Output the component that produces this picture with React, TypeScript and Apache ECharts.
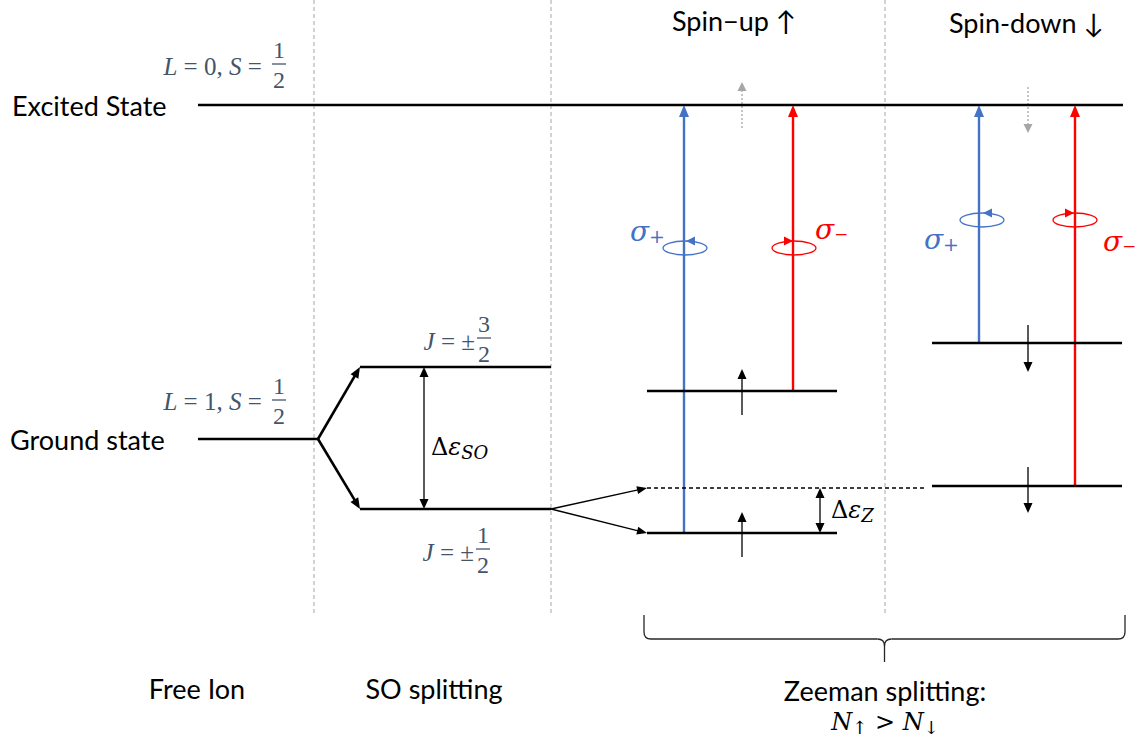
import React, { useEffect, useRef } from 'react';
import * as echarts from 'echarts';

// Diagram space spans the page; y grows downward (higher energy is nearer the top).
const PAGE_W = 1138;
const PAGE_H = 742;

// Column dividers (x) and their vertical extent
const dividerX = [314, 551, 885];
const dividerSpan = [0, 614];

// Energy levels: [xStart, xEnd, y]
const excitedLevel = [[198, 1123, 105]];
const freeIonGround = [[198, 318, 439]];
const soLevels = [[360, 551, 367], [360, 551, 509]];
const spinUpLevels = [[647, 837, 391], [647, 837, 533]];
const spinDownLevels = [[932, 1122, 343], [932, 1122, 486]];
const unsplitLevel = [[647, 927, 488]];

// Splitting arrows: [x1, y1, x2, y2]
const soSplit = [[318, 439, 360, 367], [318, 439, 360, 509]];
const zeemanSplit = [[551, 509, 647, 488], [551, 509, 647, 533]];

// Energy gap markers: [x, yTop, yBottom]
const gapMarkers = [[424, 367, 509], [820, 488, 533]];

// Optical transitions: [x, yFrom, yTo]
const sigmaPlusLines = [[684, 533, 105], [979, 343, 105]];
const sigmaMinusLines = [[793, 391, 105], [1075, 486, 105]];

// Spin orientation arrows: [x, yTail, yTip]
const spinArrows = [[742, 415, 369], [742, 557, 512], [1028, 325, 372], [1028, 467, 513]];
const excitedSpinArrows = [[742, 128, 82], [1028, 87, 133]];

// Polarization rings: [cx, cy]
const sigmaPlusRings = [[685, 248], [982, 220]];
const sigmaMinusRings = [[794, 248], [1075, 220]];

// Brace under the Zeeman columns: [xLeft, xRight, yTop, yBar, yTip]
const zeemanBrace = [[644, 1125, 615, 639, 662]];

// Captions
const captionTexts = ['Excited State', 'Ground state', 'Spin\u2212up \u2191', 'Spin-down \u2193', 'Free Ion', 'SO splitting', 'Zeeman splitting:'];
const captionAnchors = [[12, 105], [10, 439], [672, 20], [949, 22], [197, 688], [434, 688], [885, 690]];
const captionAlign = ['left', 'left', 'left', 'left', 'center', 'center', 'center'];

// Term symbols with fractions
const termTexts = ['{i|L}{r| = 0, }{i|S}{r| = }', '{i|L}{r| = 1, }{i|S}{r| = }', '{i|J}{r| = \u00b1}', '{i|J}{r| = \u00b1}'];
const termAnchors = [[268, 66], [268, 401], [475, 341], [474, 552]];
const termAlign = ['right', 'right', 'right', 'right'];
const fractionNumerators = ['1', '1', '3', '1'];
const fractionDenominators = ['2', '2', '2', '2'];
const fractionAnchors = [[279, 64], [279, 400], [484, 338], [483, 549]];

// Gap and population symbols
const symbolTexts = ['{r|\u0394}{i|\u03b5}{sub|SO}', '{r|\u0394}{i|\u03b5}{sub|Z}', '{i|N}{sub|\u2191}{r| > }{i|N}{sub|\u2193}'];
const symbolAnchors = [[431, 447], [831, 510], [885, 722]];
const symbolAlign = ['left', 'left', 'center'];

// Polarization labels
const sigmaTexts = ['{i|\u03c3}{sub|+}', '{i|\u03c3}{sub|\u2212}', '{i|\u03c3}{sub|+}', '{i|\u03c3}{sub|\u2212}'];
const sigmaAnchors = [[630, 231], [815, 229], [924, 239], [1103, 241]];

const BLUE = '#4472C4';
const RED = '#FF0000';
const BLACK = '#000000';
const GREY = '#A6A6A6';
const SLATE = '#44546A';

const SANS = 'Lato, "Open Sans", sans-serif';
const SERIF = '"DejaVu Serif", "Liberation Serif", serif';
const TERM_SERIF = '"Liberation Serif", "DejaVu Serif", serif';

type Look = { color: string; width: number; dash?: number[]; head?: 'none' | 'end' | 'both'; headLen?: number; headHalf?: number };

function arrowHead(tip: number[], ux: number, uy: number, len: number, half: number, color: string) {
  const bx = tip[0] - ux * len;
  const by = tip[1] - uy * len;
  return {
    type: 'polygon',
    shape: { points: [[tip[0], tip[1]], [bx - uy * half, by + ux * half], [bx + uy * half, by - ux * half]] },
    style: { fill: color },
  };
}

function segmentSeries(id: string, rows: number[][], look: Look) {
  return {
    id,
    type: 'custom',
    coordinateSystem: 'cartesian2d',
    silent: true,
    data: rows,
    renderItem: (_p: any, api: any) => {
      const a = api.coord([api.value(0), api.value(1)]);
      const b = api.coord([api.value(2), api.value(3)]);
      const dx = b[0] - a[0];
      const dy = b[1] - a[1];
      const len = Math.hypot(dx, dy) || 1;
      const ux = dx / len;
      const uy = dy / len;
      const L = look.headLen || 0;
      const H = look.headHalf || 0;
      const children: any[] = [];
      let s = a;
      let e = b;
      if (look.head === 'end' || look.head === 'both') {
        e = [b[0] - ux * L * 0.8, b[1] - uy * L * 0.8];
        children.push(arrowHead(b, ux, uy, L, H, look.color));
      }
      if (look.head === 'both') {
        s = [a[0] + ux * L * 0.8, a[1] + uy * L * 0.8];
        children.push(arrowHead(a, -ux, -uy, L, H, look.color));
      }
      const style: any = { stroke: look.color, lineWidth: look.width, lineCap: 'butt' };
      if (look.dash) style.lineDash = look.dash;
      children.unshift({ type: 'line', shape: { x1: s[0], y1: s[1], x2: e[0], y2: e[1] }, style });
      return { type: 'group', children };
    },
  };
}

const levelRows = (rows: number[][]) => rows.map(([x1, x2, y]) => [x1, y, x2, y]);
const verticalRows = (rows: number[][]) => rows.map(([x, y1, y2]) => [x, y1, x, y2]);

function ringSeries(id: string, rows: number[][], color: string, dir: number) {
  return {
    id,
    type: 'custom',
    coordinateSystem: 'cartesian2d',
    silent: true,
    data: rows,
    renderItem: (_p: any, api: any) => {
      const c = api.coord([api.value(0), api.value(1)]);
      const rx = 22;
      const ry = 7;
      const tipX = c[0] - dir * 1;
      const baseX = tipX - dir * 9;
      const y = c[1] - ry;
      return {
        type: 'group',
        children: [
          { type: 'ellipse', shape: { cx: c[0], cy: c[1], rx, ry }, style: { fill: 'none', stroke: color, lineWidth: 1.3 } },
          { type: 'polygon', shape: { points: [[tipX, y], [baseX, y - 4.5], [baseX, y + 4.5]] }, style: { fill: color } },
        ],
      };
    },
  };
}

function braceSeries(id: string, rows: number[][]) {
  return {
    id,
    type: 'custom',
    coordinateSystem: 'cartesian2d',
    silent: true,
    data: rows,
    renderItem: (_p: any, api: any) => {
      const [l, top] = api.coord([api.value(0), api.value(2)]);
      const [r, bar] = api.coord([api.value(1), api.value(3)]);
      const tip = api.coord([api.value(0), api.value(4)])[1];
      const cx = (l + r) / 2;
      const k = 7;
      const st = { stroke: '#262626', lineWidth: 1.3, fill: 'none' };
      return {
        type: 'group',
        children: [
          { type: 'line', shape: { x1: l, y1: top, x2: l, y2: bar - k }, style: st },
          { type: 'bezierCurve', shape: { x1: l, y1: bar - k, cpx1: l, cpy1: bar, x2: l + k, y2: bar }, style: st },
          { type: 'line', shape: { x1: l + k, y1: bar, x2: cx - k, y2: bar }, style: st },
          { type: 'bezierCurve', shape: { x1: cx - k, y1: bar, cpx1: cx, cpy1: bar, x2: cx, y2: bar + k }, style: st },
          { type: 'line', shape: { x1: cx, y1: bar + k, x2: cx, y2: tip }, style: st },
          { type: 'bezierCurve', shape: { x1: cx + k, y1: bar, cpx1: cx, cpy1: bar, x2: cx, y2: bar + k }, style: st },
          { type: 'line', shape: { x1: cx + k, y1: bar, x2: r - k, y2: bar }, style: st },
          { type: 'bezierCurve', shape: { x1: r - k, y1: bar, cpx1: r, cpy1: bar, x2: r, y2: bar - k }, style: st },
          { type: 'line', shape: { x1: r, y1: bar - k, x2: r, y2: top }, style: st },
        ],
      };
    },
  };
}

function mathRich(family: string, color: string, size: number, subSize: number, drop: number) {
  return {
    i: { fontFamily: family, fontStyle: 'italic', fontSize: size, fill: color },
    r: { fontFamily: family, fontSize: size, fill: color },
    sub: { fontFamily: family, fontStyle: 'italic', fontSize: subSize, fill: color, padding: [drop * 2, 0, 0, 0] },
  };
}

function textSeries(id: string, anchors: number[][], build: (i: number) => any) {
  return {
    id,
    type: 'custom',
    coordinateSystem: 'cartesian2d',
    silent: true,
    data: anchors,
    renderItem: (p: any, api: any) => {
      const c = api.coord([api.value(0), api.value(1)]);
      return { type: 'text', x: c[0], y: c[1], style: build(p.dataIndex) };
    },
  };
}

function fractionSeries(id: string) {
  return {
    id,
    type: 'custom',
    coordinateSystem: 'cartesian2d',
    silent: true,
    data: fractionAnchors,
    renderItem: (p: any, api: any) => {
      const c = api.coord([api.value(0), api.value(1)]);
      const font = { fontFamily: TERM_SERIF, fontSize: 24, fill: SLATE, align: 'center', verticalAlign: 'middle' };
      return {
        type: 'group',
        children: [
          { type: 'text', x: c[0], y: c[1] - 14, style: { ...font, text: fractionNumerators[p.dataIndex] } },
          { type: 'line', shape: { x1: c[0] - 7, y1: c[1], x2: c[0] + 7, y2: c[1] }, style: { stroke: SLATE, lineWidth: 1.3 } },
          { type: 'text', x: c[0], y: c[1] + 16, style: { ...font, text: fractionDenominators[p.dataIndex] } },
        ],
      };
    },
  };
}

function buildOption() {
  return {
    animation: false,
    backgroundColor: '#ffffff',
    grid: { left: 0, right: 0, top: 0, bottom: 0 },
    xAxis: { type: 'value', min: 0, max: PAGE_W, show: false },
    yAxis: { type: 'value', min: 0, max: PAGE_H, inverse: true, show: false },
    series: [
      segmentSeries('dividers', dividerX.map((x) => [x, dividerSpan[0], x, dividerSpan[1]]), { color: GREY, width: 1, dash: [4, 3] }),
      ringSeries('ringsPlus', sigmaPlusRings, BLUE, -1),
      ringSeries('ringsMinus', sigmaMinusRings, RED, 1),
      segmentSeries('sigmaPlus', verticalRows(sigmaPlusLines), { color: BLUE, width: 2.4, head: 'end', headLen: 12, headHalf: 5 }),
      segmentSeries('sigmaMinus', verticalRows(sigmaMinusLines), { color: RED, width: 2.4, head: 'end', headLen: 12, headHalf: 5 }),
      segmentSeries('excitedSpin', verticalRows(excitedSpinArrows), { color: GREY, width: 1.3, dash: [2, 2], head: 'end', headLen: 9, headHalf: 4.5 }),
      segmentSeries('unsplit', levelRows(unsplitLevel), { color: BLACK, width: 1.3, dash: [4, 3] }),
      segmentSeries('excited', levelRows(excitedLevel), { color: BLACK, width: 2.6 }),
      segmentSeries('ground', levelRows(freeIonGround), { color: BLACK, width: 2.6 }),
      segmentSeries('so', levelRows(soLevels), { color: BLACK, width: 2.6 }),
      segmentSeries('spinUp', levelRows(spinUpLevels), { color: BLACK, width: 2.6 }),
      segmentSeries('spinDown', levelRows(spinDownLevels), { color: BLACK, width: 2.6 }),
      segmentSeries('soSplit', soSplit, { color: BLACK, width: 2.6, head: 'end', headLen: 11, headHalf: 4.5 }),
      segmentSeries('zeemanSplit', zeemanSplit, { color: BLACK, width: 1.3, head: 'end', headLen: 10, headHalf: 4 }),
      segmentSeries('gaps', verticalRows(gapMarkers), { color: BLACK, width: 1.3, head: 'both', headLen: 10, headHalf: 4.5 }),
      segmentSeries('spins', verticalRows(spinArrows), { color: BLACK, width: 1.3, head: 'end', headLen: 10, headHalf: 4.5 }),
      braceSeries('brace', zeemanBrace),
      textSeries('captions', captionAnchors, (i) => ({
        text: captionTexts[i],
        fill: BLACK,
        fontFamily: SANS,
        fontSize: 27,
        align: captionAlign[i],
        verticalAlign: 'middle',
      })),
      textSeries('terms', termAnchors, (i) => ({
        text: termTexts[i],
        rich: mathRich(TERM_SERIF, SLATE, 25, 17, 6),
        align: termAlign[i],
        verticalAlign: 'middle',
      })),
      fractionSeries('fractions'),
      textSeries('symbols', symbolAnchors, (i) => ({
        text: symbolTexts[i],
        rich: mathRich(SERIF, BLACK, 24, 18, 5),
        align: symbolAlign[i],
        verticalAlign: 'middle',
      })),
      textSeries('sigmas', sigmaAnchors, (i) => ({
        text: sigmaTexts[i],
        rich: mathRich(SERIF, i % 2 === 0 ? BLUE : RED, 28, i % 2 === 0 ? 19 : 17, 5),
        align: 'left',
        verticalAlign: 'middle',
      })),
    ],
  };
}

export default function App() {
  const ref = useRef<HTMLDivElement>(null);
  useEffect(() => {
    if (!ref.current) return;
    const chart = echarts.init(ref.current, null, { renderer: 'svg' });
    chart.setOption(buildOption() as any);
    return () => chart.dispose();
  }, []);
  return (
    <div
      ref={ref}
      style={{ position: 'fixed', left: 0, top: 0, width: PAGE_W, height: PAGE_H, background: '#ffffff' }}
    />
  );
}
